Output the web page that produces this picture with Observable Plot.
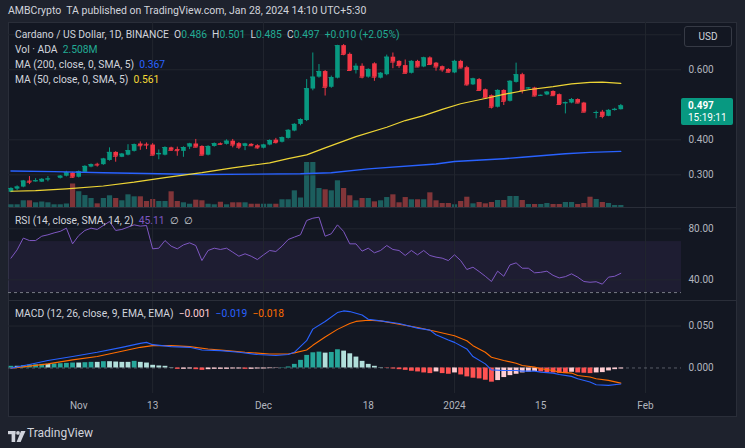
<!DOCTYPE html>
<html><head><meta charset="utf-8">
<script src="https://cdn.jsdelivr.net/npm/d3@7"></script>
<script src="https://cdn.jsdelivr.net/npm/@observablehq/plot@0.6"></script>
<style>
html,body{margin:0;padding:0;background:#1e222d;}
#root{position:relative;width:745px;height:448px;background:#1e222d;overflow:hidden;font-family:Roboto,"Noto Sans",sans-serif;color:#d1d4dc;}
.txt{position:absolute;font-size:10.3px;line-height:12px;white-space:pre;}
</style></head>
<body><div id="root"></div>
<script>
// ---------- DATA ----------
const firstDay = "2023-10-21"; // one daily candle per day, 100 candles
const opens = [.250,.259,.265,.282,.280,.279,.286,.288,.290,.296,
 .305,.293,.307,.322,.330,.329,.341,.364,.350,.356,
 .367,.388,.387,.385,.357,.356,.377,.372,.367,.379,
 .388,.381,.356,.381,.389,.387,.396,.389,.381,.387,
 .383,.376,.385,.399,.393,.404,.425,.444,.455,.545,
 .579,.595,.550,.576,.669,.644,.598,.610,.579,.617,
 .576,.586,.636,.624,.612,.590,.624,.608,.634,.619,
 .609,.601,.591,.624,.606,.557,.572,.543,.526,.493,
 .541,.510,.564,.586,.546,.548,.526,.528,.538,.529,
 .503,.505,.515,.505,.479,.476,.479,.467,.484,.486];
const highs = [.263,.2685,.284,.295,.289,.289,.295,.292,.298,.310,
 .307,.311,.326,.331,.333,.347,.377,.366,.361,.386,
 .388,.394,.391,.389,.371,.380,.379,.379,.380,.390,
 .401,.383,.383,.391,.391,.400,.401,.392,.390,.389,
 .386,.387,.400,.404,.408,.429,.446,.460,.572,.648,
 .615,.598,.582,.670,.672,.648,.617,.617,.603,.620,
 .592,.642,.648,.626,.628,.626,.627,.636,.637,.621,
 .611,.603,.627,.627,.610,.576,.575,.545,.528,.543,
 .543,.569,.619,.590,.549,.550,.528,.538,.540,.531,
 .508,.518,.517,.507,.480,.482,.484,.486,.490,.501];
const lows = [.249,.255,.263,.272,.279,.278,.280,.286,.288,.294,
 .290,.291,.305,.320,.322,.327,.339,.336,.349,.354,
 .365,.370,.372,.354,.343,.354,.368,.353,.350,.372,
 .377,.354,.354,.379,.385,.385,.377,.372,.369,.381,
 .373,.374,.383,.388,.391,.402,.423,.440,.452,.540,
 .576,.525,.547,.574,.640,.595,.588,.574,.576,.567,
 .574,.583,.603,.604,.588,.588,.606,.606,.613,.596,
 .593,.591,.589,.603,.553,.555,.539,.518,.488,.491,
 .498,.508,.562,.531,.544,.523,.524,.526,.524,.499,
 .474,.503,.503,.477,.477,.460,.460,.466,.482,.485];
const closes = [.261,.265,.282,.279,.283,.287,.288,.290,.296,.306,
 .293,.309,.324,.329,.328,.345,.364,.353,.359,.369,
 .386,.383,.385,.356,.361,.378,.370,.369,.378,.388,
 .379,.356,.381,.389,.387,.396,.385,.379,.388,.383,
 .377,.385,.398,.392,.406,.427,.444,.458,.546,.579,
 .595,.550,.578,.669,.644,.598,.610,.579,.601,.579,
 .590,.636,.622,.612,.590,.624,.608,.634,.615,.608,
 .600,.593,.624,.605,.557,.574,.541,.520,.493,.541,
 .510,.567,.586,.541,.548,.525,.527,.536,.526,.501,
 .506,.515,.505,.479,.478,.478,.467,.484,.487,.497];
const hiddenCandles = [7, 94]; // no candle visible in the picture on these days
const volumesM = [3.4,3.4,8.4,8.4,5.9,6.9,5.9,3.4,3.4,4.4,
 29.5,19.8,15.0,11.3,4.6,11.3,14.7,11.3,8.4,15.9,
 13.4,13.4,7.5,10.0,7.5,7.5,19.7,7.5,5.9,4.1,
 9.2,8.4,4.1,3.4,6.6,3.4,5.9,5.9,5.9,4.1,
 4.1,4.1,4.1,4.1,9.7,9.7,20.9,11.9,56.4,56.4,
 23.8,22.2,20.9,33.5,23.8,14.7,8.4,11.3,11.3,7.1,
 8.4,12.5,15.9,5.9,12.5,9.7,9.7,9.7,18.4,8.4,
 5.0,5.0,3.4,7.5,12.9,4.6,6.3,4.6,6.3,8.8,
 8.8,13.8,13.8,8.8,3.8,3.8,3.8,5.0,3.8,3.8,
 6.3,6.3,3.8,5.0,12.9,10.0,6.3,5.0,2.5,2.508];
const ma200Idx = [0,7,15,24,31,40,47,52,58,69,72,80,83,90,94,99];
const ma200Val = [.311,.309,.306,.303,.301,.302,.303,.306,.317,.331,.338,.346,.350,.360,.364,.367];
const ma50Idx = [0,4,9,15,20,25,31,36,42,45,48,51,56,61,64,67,70,73,77,80,84,88,91,94,96,99];
const ma50Val = [.253,.255,.260,.268,.279,.292,.306,.320,.334,.346,.357,.377,.409,.436,.455,.469,.487,.503,.518,.530,.543,.552,.560,.564,.565,.561];
const rsi = [57.0,63.5,72.7,70.8,70.8,74.2,75.3,76.8,78.0,80.5,
 68.2,74.7,78.7,80.5,79.5,82.6,85.7,78.7,79.5,81.3,
 83.1,82.1,82.6,64.3,64.8,70.8,66.4,64.3,67.4,69.0,
 66.9,55.1,63.0,64.8,63.8,64.8,61.7,58.5,60.4,58.5,
 55.9,59.6,63.0,62.2,66.4,71.6,73.5,75.3,86.5,88.3,
 89.1,74.2,76.1,83.1,77.9,68.2,68.2,62.5,64.8,61.2,
 63.0,66.9,63.8,63.0,59.1,63.0,59.6,63.0,59.1,57.8,
 57.0,55.1,59.6,55.1,48.1,49.9,46.5,42.8,38.7,46.8,
 42.8,51.7,53.3,49.1,49.1,45.5,45.9,46.8,43.5,41.5,
 42.5,44.7,42.1,38.7,38.1,38.5,36.6,42.1,42.8,45.11];
const macdIdx = [0,3,6,10,14,18,21,22,23,26,29,31,34,37,40,43,45,46,48,49,51,53,54,55,57,58,60,63,66,68,69,71,72,74,75,77,78,80,82,83,85,86,88,89,91,92,94,95,97,99];
const macdVal = [-.0002,.0041,.0089,.0136,.0187,.0246,.0293,.0305,.0278,.0254,.0246,.0215,.0207,.0187,.0160,.0148,.0160,.0187,.0325,.0463,.0553,.0660,.0680,.0672,.0632,.0581,.0561,.0530,.0475,.0451,.0396,.0333,.0305,.0227,.0136,.0049,-.0022,-.0030,-.0030,-.0037,-.0037,-.0049,-.0061,-.0077,-.0100,-.0128,-.0167,-.0199,-.0207,-.019];
const signalIdx = [0,3,6,10,14,18,21,23,26,29,32,35,38,42,45,46,48,49,51,53,55,56,58,60,63,66,69,72,74,75,77,78,80,82,83,85,86,88,89,91,92,94,95,97,99];
const signalVal = [-.0002,.0022,.0049,.0097,.0136,.0199,.0246,.0266,.0266,.0254,.0227,.0207,.0187,.0167,.0167,.0180,.0215,.0270,.0370,.0460,.0530,.0555,.0569,.0561,.0522,.0483,.0435,.0384,.0325,.0266,.0187,.0128,.0089,.0057,.0030,.0010,-.0010,-.0030,-.0049,-.0061,-.0089,-.0108,-.0128,-.0148,-.018];
const hist = [.0020,.0020,.0028,.0035,.0039,.0043,.0043,.0047,.0051,.0055,
 .0059,.0059,.0063,.0067,.0067,.0075,.0075,.0071,.0067,.0067,
 .0079,.0067,.0059,.0032,.0024,.0020,.0004,-.0016,-.0016,-.0012,
 -.0020,-.0028,-.0020,-.0016,-.0016,-.0016,-.0012,-.0012,-.0016,-.0016,
 -.0012,-.0012,-.0008,-.0004,.0004,.0012,.0043,.0091,.0150,.0181,
 .0189,.0177,.0185,.0217,.0201,.0169,.0130,.0079,.0043,.0020,
 .0004,-.0004,-.0012,-.0020,-.0028,-.0039,-.0047,-.0059,-.0067,-.0047,
 -.0067,-.0075,-.0059,-.0083,-.0106,-.0122,-.0130,-.0146,-.0169,-.0150,
 -.0114,-.0091,-.0075,-.0059,-.0051,-.0043,-.0047,-.0055,-.0059,-.0063,
 -.0067,-.0051,-.0059,-.0063,-.0067,-.0059,-.0055,-.0035,-.0020,-.0012];
const priceTicks = [0.3, 0.4, 0.6];
const priceGrid = [0.3, 0.4, 0.6, 0.7];
const rsiTicks = [40, 80];
const macdTicks = [0, 0.05];
const timeTickDays = ["2023-11-01","2023-11-13","2023-12-01","2023-12-18","2024-01-01","2024-01-15","2024-02-01"];
const timeTickLabels = ["Nov","13","Dec","18","2024","15","Feb"];
const timeGridDays = ["2023-11-13","2023-12-01","2024-01-01","2024-02-01"];

// ---------- build tables ----------
const DAY = 864e5;
const t0 = Date.parse(firstDay + "T00:00:00Z");
const dates = opens.map((_, i) => new Date(t0 + i * DAY));
const toDate = s => new Date(Date.parse(s + "T00:00:00Z"));
const tickDates = timeTickDays.map(toDate);
const gridDates = timeGridDays.map(toDate);
const jan1 = Date.parse("2024-01-01T00:00:00Z");
const xDomain = [new Date(jan1 - 72.4 * DAY), new Date(jan1 + 36.85 * DAY)];

const UP = "#089981", DOWN = "#f23645", GRID = "#22262f", AXIS = "#b2b5be";
const rows = dates.map((d, i) => ({date: d, o: opens[i], h: highs[i], l: lows[i], c: closes[i], v: volumesM[i], up: closes[i] >= opens[i], i}));
const shown = rows.filter(r => !hiddenCandles.includes(r.i));
const pts = (idx, val) => idx.map((k, j) => ({date: dates[k], v: val[j]}));
const ma200Rows = pts(ma200Idx, ma200Val), ma50Rows = pts(ma50Idx, ma50Val);
const rsiRows = rsi.map((v, i) => ({date: dates[i], v}));
const macdRows = pts(macdIdx, macdVal), signalRows = pts(signalIdx, signalVal);
const histRows = hist.map((v, i) => ({date: dates[i], v,
  color: v >= 0 ? ((i === 0 || v > hist[i-1]) ? "#26a69a" : "#b2dfdb") : ((i > 0 && v < hist[i-1]) ? "#ff5252" : "#ffcdd2")}));

const W = 729, MR = 56;
const style = {background: "transparent", color: AXIS, fontFamily: "Roboto, sans-serif", fontSize: "10px", overflow: "visible"};
const base = {width: W, marginLeft: 0, marginRight: MR, marginTop: 0, marginBottom: 0, style};
const fmt3 = d3.format(".3f"), fmt2 = d3.format(".2f");
const halfBody = 0.37 * DAY;

// volume pane (behind candles)
const vol = Plot.plot({...base, height: 185,
  x: {type: "utc", domain: xDomain, axis: null},
  y: {domain: [0, 232], axis: null},
  marks: [
    Plot.ruleX(rows, {x: "date", y1: 0, y2: "v", stroke: d => d.up ? "#26a69a" : "#ef5350", strokeOpacity: 0.5, strokeWidth: 5.2})
  ]});

const main = Plot.plot({...base, height: 185,
  x: {type: "utc", domain: xDomain, axis: null},
  y: {domain: [0.2066, 0.7351]},
  marks: [
    Plot.ruleY(priceGrid, {stroke: GRID}),
    Plot.ruleX(gridDates, {stroke: GRID}),
    Plot.ruleX(shown, {x: "date", y1: "l", y2: "h", stroke: d => d.up ? UP : DOWN, strokeWidth: 1}),
    Plot.ruleX(shown, {x: "date", y1: "o", y2: "c", stroke: d => d.up ? UP : DOWN, strokeWidth: 4.6}),
    Plot.ruleY(shown, {y: "c", x1: d => new Date(+d.date - halfBody), x2: d => new Date(+d.date + halfBody), stroke: d => d.up ? UP : DOWN, strokeWidth: 1}),
    Plot.line(ma200Rows, {x: "date", y: "v", stroke: "#2962ff", strokeWidth: 1.4}),
    Plot.line(ma50Rows, {x: "date", y: "v", stroke: "#eed535", strokeWidth: 1.2}),
    Plot.axisY({anchor: "right", label: null, ticks: priceTicks, tickFormat: fmt3, tickSize: 0, tickPadding: 7, fill: AXIS})
  ]});

const rsiPlot = Plot.plot({...base, height: 93,
  x: {type: "utc", domain: xDomain, axis: null},
  y: {domain: [23.8, 96.7]},
  marks: [
    Plot.rect([0], {x1: () => xDomain[0], x2: () => xDomain[1], y1: 30, y2: 70, fill: "#7e57c2", fillOpacity: 0.1}),
    Plot.ruleY(rsiTicks, {stroke: GRID}),
    Plot.ruleX(gridDates, {stroke: GRID}),
    Plot.ruleY([30], {stroke: "#787b86", strokeDasharray: "3,3"}),
    Plot.line(rsiRows, {x: "date", y: "v", stroke: "#7e57c2", strokeWidth: 1}),
    Plot.axisY({anchor: "right", label: null, ticks: rsiTicks, tickFormat: fmt2, tickSize: 0, tickPadding: 7, fill: AXIS})
  ]});

const macdPlot = Plot.plot({...base, height: 117, marginBottom: 24,
  x: {type: "utc", domain: xDomain},
  y: {domain: [-0.0304, 0.0804]},
  marks: [
    Plot.ruleY([0.05], {stroke: GRID}),
    Plot.ruleX(gridDates, {stroke: GRID}),
    Plot.ruleY([0], {stroke: "#787b86", strokeOpacity: 0.7, strokeDasharray: "3,3"}),
    Plot.ruleX(histRows, {x: "date", y1: 0, y2: "v", stroke: "color", strokeWidth: 4.8}),
    Plot.line(signalRows, {x: "date", y: "v", stroke: "#ff6d00", strokeWidth: 1.1}),
    Plot.line(macdRows, {x: "date", y: "v", stroke: "#2962ff", strokeWidth: 1.1}),
    Plot.axisY({anchor: "right", label: null, ticks: macdTicks, tickFormat: fmt3, tickSize: 0, tickPadding: 7, fill: AXIS}),
    Plot.axisX({label: null, ticks: tickDates, tickFormat: d => timeTickLabels[tickDates.findIndex(t => +t === +d)], tickSize: 0, tickPadding: 8, fill: AXIS})
  ]});

// ---------- layout ----------
const root = document.getElementById("root");
function box(css) { const d = document.createElement("div"); d.style.position = "absolute"; Object.assign(d.style, css); root.appendChild(d); return d; }
function txt(html, css) { const d = document.createElement("div"); d.className = "txt"; Object.assign(d.style, css); d.innerHTML = html; root.appendChild(d); return d; }

box({left: "8px", top: "22px", width: "729px", height: "395px", background: "#131722", border: "1px solid #2a2e39", boxSizing: "border-box"});
function pane(svg, top) { const d = box({left: "8px", top: top + "px"}); d.appendChild(svg); return d; }
pane(vol, 22); pane(main, 22); pane(rsiPlot, 207); pane(macdPlot, 300);
box({left: "8px", top: "207px", width: "729px", height: "1px", background: "#2a2e39"});
box({left: "8px", top: "300px", width: "729px", height: "1px", background: "#2a2e39"});

// header
txt("AMBCrypto\u00a0 TA published on TradingView.com, Jan 28, 2024 14:10 UTC+5:30", {left: "8px", top: "5px", color: "#d1d4dc", fontSize: "10.5px"});

const G = "#22ab94";
const last = rows[rows.length - 1];
txt(`Cardano / US Dollar, 1D, BINANCE  O<span style="color:${G}">${fmt3(last.o)}</span>  H<span style="color:${G}">${fmt3(last.h)}</span>  L<span style="color:${G}">${fmt3(last.l)}</span>  C<span style="color:${G}">${fmt3(last.c)}</span>  <span style="color:${G}">+0.010 (+2.05%)</span>`, {left: "15px", top: "29px"});
txt(`Vol · ADA  <span style="color:${G}">${d3.format(".3f")(last.v)}M</span>`, {left: "15px", top: "44px"});
txt(`MA (200, close, 0, SMA, 5)  <span style="color:#2962ff">${fmt3(ma200Val[ma200Val.length-1])}</span>`, {left: "15px", top: "59px"});
txt(`MA (50, close, 0, SMA, 5)  <span style="color:#f5d936">${fmt3(ma50Val[ma50Val.length-1])}</span>`, {left: "15px", top: "74px"});
txt(`RSI (14, close, SMA, 14, 2)  <span style="color:#7e57c2">${fmt2(rsi[rsi.length-1])}</span>  ∅  ∅`, {left: "15px", top: "215px"});
txt(`MACD (12, 26, close, 9, EMA, EMA)  <span style="color:#ffcdd2">${fmt3(hist[hist.length-1])}</span>  <span style="color:#2962ff">${fmt3(macdVal[macdVal.length-1])}</span>  <span style="color:#ff6d00">${fmt3(signalVal[signalVal.length-1])}</span>`, {left: "15px", top: "308px"});

// USD box
const usd = box({left: "684px", top: "26px", width: "48px", height: "21px", border: "1px solid #363a45", borderRadius: "3px", boxSizing: "border-box", color: "#d1d4dc", fontSize: "10px", lineHeight: "19px", textAlign: "center"});
usd.textContent = "USD";

// last price label
const yLast = main.scale("y").apply(last.c);
const pl = box({left: "681px", top: (22 + yLast - 7.5) + "px", width: "52px", height: "27px", background: "#089981", borderRadius: "2px", color: "#fff", fontSize: "10px", lineHeight: "12px", paddingLeft: "7px", boxSizing: "border-box", paddingTop: "2px"});
pl.innerHTML = `<b>${fmt3(last.c)}</b><br>15:19:11`;

// TradingView footer
const logo = document.createElementNS("http://www.w3.org/2000/svg", "svg");
logo.setAttribute("width", "18"); logo.setAttribute("height", "12");
logo.innerHTML = '<rect x="0" y="0" width="7.5" height="3.2" fill="#d1d4dc"/><rect x="3.6" y="0" width="3.6" height="11" fill="#d1d4dc"/><circle cx="10" cy="1.9" r="1.9" fill="#d1d4dc"/><polygon points="13,0 17.5,0 12.6,11 8.6,11" fill="#d1d4dc"/>';
const lg = box({left: "8px", top: "428px"}); lg.appendChild(logo);
txt("TradingView", {left: "27px", top: "426px", fontSize: "12px", lineHeight: "14px", color: "#d1d4dc"});
</script>
</body></html>
